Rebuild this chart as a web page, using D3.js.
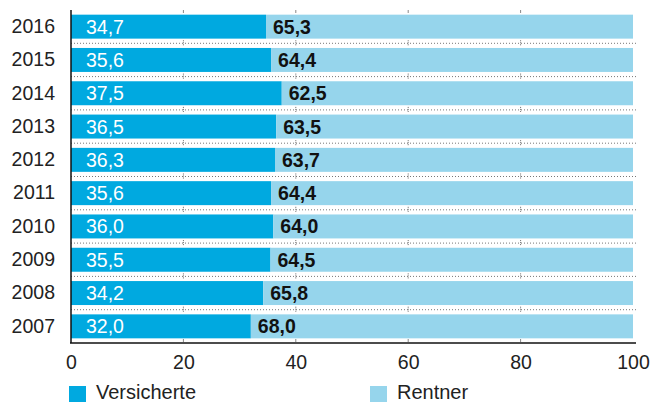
<!DOCTYPE html>
<html>
<head>
<meta charset="utf-8">
<script src="https://cdn.jsdelivr.net/npm/d3@7"></script>
<style>
  body { margin: 0; background: #fff; }
  svg { display: block; font-family: "Liberation Sans", Arial, sans-serif; }
</style>
</head>
<body>
<svg id="chart" width="652" height="403"></svg>
<script>
// Share of insured persons vs. pensioners per year (percent)
const years = ["2016", "2015", "2014", "2013", "2012", "2011", "2010", "2009", "2008", "2007"];
const versicherte = [34.7, 35.6, 37.5, 36.5, 36.3, 35.6, 36.0, 35.5, 34.2, 32.0];
const rentner = [65.3, 64.4, 62.5, 63.5, 63.7, 64.4, 64.0, 64.5, 65.8, 68.0];
const xTicks = [0, 20, 40, 60, 80, 100];
const seriesNames = ["Versicherte", "Rentner"];
const colors = ["#00a9e0", "#96d5ec"];

const svg = d3.select("#chart");
const margin = { left: 71, right: 19 };
const W = 652;
const FS = 19.5;

const x = d3.scaleLinear().domain([0, 100]).range([margin.left, W - margin.right]);
const y = d3.scaleBand().domain(years).range([10, 343]).paddingInner(0.28).paddingOuter(0.14);

const fmt = v => v.toFixed(1).replace(".", ",");

// Dotted separators between the rows
const step = y.step();
const sepYs = years.slice(0, -1).map(yr => y(yr) + y.bandwidth() + (step - y.bandwidth()) / 2);
svg.append("g").selectAll("line").data(sepYs).join("line")
  .attr("x1", x(0)).attr("x2", x(100) + 3)
  .attr("y1", d => d).attr("y2", d => d)
  .attr("stroke", "#777").attr("stroke-width", 1)
  .attr("stroke-dasharray", "1,2");

// Short tick marks on the separators, top and bottom
const inner = xTicks.slice(1, -1);
const tickG = svg.append("g");
sepYs.forEach(sy => {
  tickG.selectAll(null).data(inner).join("line")
    .attr("x1", d => x(d)).attr("x2", d => x(d))
    .attr("y1", sy - 3).attr("y2", sy + 3)
    .attr("stroke", "#666").attr("stroke-dasharray", "1,1");
});
tickG.selectAll(null).data(inner).join("line")
  .attr("x1", d => x(d)).attr("x2", d => x(d))
  .attr("y1", 10).attr("y2", 13)
  .attr("stroke", "#888");
tickG.selectAll(null).data(inner).join("line")
  .attr("x1", d => x(d)).attr("x2", d => x(d))
  .attr("y1", 339).attr("y2", 342)
  .attr("stroke", "#888");

// Stacked bars
const rows = years.map((yr, i) => ({ year: yr, v: versicherte[i], r: rentner[i] }));
const bars = svg.append("g");
bars.selectAll("rect.v").data(rows).join("rect").attr("class", "v")
  .attr("x", x(0)).attr("y", d => y(d.year))
  .attr("width", d => x(d.v) - x(0)).attr("height", y.bandwidth())
  .attr("fill", colors[0]);
bars.selectAll("rect.r").data(rows).join("rect").attr("class", "r")
  .attr("x", d => x(d.v)).attr("y", d => y(d.year))
  .attr("width", d => x(d.v + d.r) - x(d.v)).attr("height", y.bandwidth())
  .attr("fill", colors[1]);

// Value labels
const labels = svg.append("g").attr("font-size", FS);
labels.selectAll("text.v").data(rows).join("text").attr("class", "v")
  .attr("x", x(0) + 15).attr("y", d => y(d.year) + y.bandwidth() / 2)
  .attr("dy", "0.36em").attr("fill", "#fff")
  .text(d => fmt(d.v));
labels.selectAll("text.r").data(rows).join("text").attr("class", "r")
  .attr("x", d => x(d.v) + 7).attr("y", d => y(d.year) + y.bandwidth() / 2)
  .attr("dy", "0.36em").attr("fill", "#111").attr("font-weight", "bold")
  .text(d => fmt(d.r));

// Axes
const yAxis = svg.append("g").attr("transform", `translate(${x(0)},0)`)
  .call(d3.axisLeft(y).tickSize(0).tickPadding(16));
yAxis.select(".domain").remove();
yAxis.selectAll("text").attr("font-size", FS).attr("fill", "#222")
  .attr("font-family", "Liberation Sans, Arial, sans-serif");
svg.append("line").attr("x1", x(0)).attr("x2", x(0)).attr("y1", 10).attr("y2", 343)
  .attr("stroke", "#111").attr("stroke-width", 1.5);

const xAxis = svg.append("g").attr("transform", `translate(0,343)`)
  .call(d3.axisBottom(x).tickValues(xTicks).tickSize(0).tickPadding(12).tickFormat(d3.format("d")));
xAxis.select(".domain").remove();
xAxis.selectAll("text").attr("font-size", FS).attr("fill", "#222")
  .attr("font-family", "Liberation Sans, Arial, sans-serif");
svg.append("line").attr("x1", x(0) - 1).attr("x2", x(100) + 3).attr("y1", 343).attr("y2", 343)
  .attr("stroke", "#111").attr("stroke-width", 1.5);

// Legend
const legendX = [69, 370];
const lg = svg.append("g").selectAll("g").data(seriesNames).join("g")
  .attr("transform", (d, i) => `translate(${legendX[i]},386)`);
lg.append("rect").attr("width", 17).attr("height", 16).attr("fill", (d, i) => colors[i]);
lg.append("text").attr("x", 27).attr("y", 13)
  .attr("font-size", 20).attr("fill", "#222").text(d => d);
</script>
</body>
</html>
